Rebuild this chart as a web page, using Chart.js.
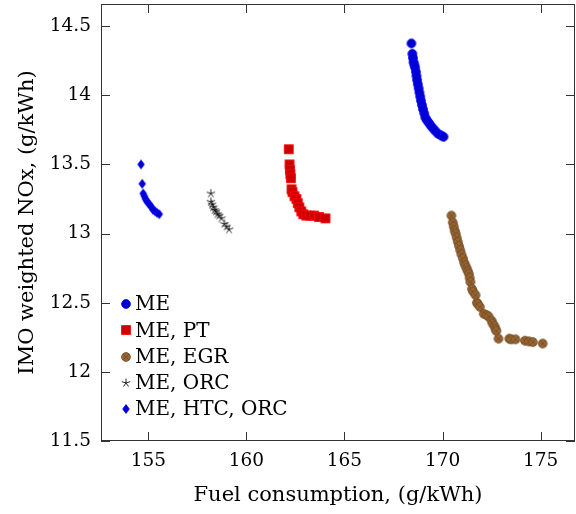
<!DOCTYPE html>
<html><head><meta charset="utf-8">
<script src="https://cdn.jsdelivr.net/npm/chart.js@4/dist/chart.umd.min.js"></script>
<style>html,body{margin:0;padding:0;background:#fff}#wrap{width:576px;height:514px;position:relative}</style>
</head><body><div id="wrap"><canvas id="c" width="576" height="514"></canvas></div>
<script>
// ---- data ----
const seriesLabels = ['ME', 'ME, PT', 'ME, EGR', 'ME, ORC', 'ME, HTC, ORC'];
const meX = [168.41,168.46,168.49,168.52,168.56,168.60,168.64,168.67,168.70,168.74,168.78,168.82,168.86,168.90,168.95,169.00,169.06,169.12,169.20,169.30,169.40,169.52,169.64,169.78,169.92,170.05];
const meY = [14.375,14.30,14.27,14.24,14.22,14.20,14.17,14.14,14.11,14.08,14.05,14.02,13.99,13.96,13.93,13.90,13.87,13.84,13.82,13.80,13.78,13.76,13.74,13.72,13.71,13.70];
const ptX = [162.16,162.20,162.22,162.24,162.27,162.30,162.35,162.45,162.55,162.62,162.70,162.80,162.90,163.05,163.25,163.45,163.70,164.03];
const ptY = [13.61,13.50,13.46,13.43,13.40,13.32,13.30,13.27,13.25,13.22,13.19,13.16,13.14,13.13,13.13,13.13,13.12,13.11];
const egrX = [170.45,170.52,170.57,170.62,170.67,170.72,170.78,170.84,170.90,170.96,171.04,171.10,171.16,171.22,171.28,171.34,171.38,171.42,171.50,171.56,171.68,171.75,171.80,171.90,172.10,172.25,172.35,172.50,172.55,172.65,172.70,172.74,172.85,173.40,173.50,173.72,174.20,174.40,174.60,175.10];
const egrY = [13.13,13.08,13.05,13.02,13.00,12.97,12.94,12.91,12.88,12.85,12.82,12.79,12.77,12.75,12.73,12.71,12.68,12.65,12.60,12.58,12.555,12.50,12.49,12.47,12.42,12.41,12.40,12.37,12.35,12.33,12.31,12.295,12.24,12.24,12.235,12.235,12.225,12.22,12.215,12.205];
const orcX = [158.19,158.19,158.25,158.31,158.38,158.45,158.53,158.62,158.73,158.88,158.99,159.12];
const orcY = [13.29,13.23,13.21,13.19,13.17,13.16,13.14,13.13,13.11,13.07,13.05,13.03];
const htcX = [154.63,154.69,154.74,154.80,154.86,154.92,155.00,155.09,155.17,155.25,155.35,155.45,155.56];
const htcY = [13.50,13.36,13.29,13.27,13.25,13.235,13.22,13.205,13.19,13.17,13.16,13.15,13.14];
const xTicks = [155, 160, 165, 170, 175];
const xTickLabels = ['155', '160', '165', '170', '175'];
const yTicks = [11.5, 12, 12.5, 13, 13.5, 14, 14.5];
const yTickLabels = ['11.5', '12', '12.5', '13', '13.5', '14', '14.5'];
const xTitle = 'Fuel consumption, (g/kWh)';
const yTitle = 'IMO weighted NOx, (g/kWh)';

// ---- marks ----
const R = 4.4, LW = 0.85;
function mk(draw) {
  const c = document.createElement('canvas'); c.width = 16; c.height = 16;
  const g = c.getContext('2d'); g.translate(8, 8); g.lineWidth = LW; draw(g); return c;
}
const markCircle = mk(g => { g.beginPath(); g.arc(0,0,R,0,Math.PI*2); g.fillStyle='#0000cc'; g.fill(); g.strokeStyle='#0000ff'; g.stroke(); });
const markSquare = mk(g => { g.fillStyle='#cc0000'; g.fillRect(-R,-R,2*R,2*R); g.strokeStyle='#ff0000'; g.strokeRect(-R,-R,2*R,2*R); });
const markOtimes = mk(g => { g.beginPath(); g.arc(0,0,R,0,Math.PI*2); g.fillStyle='rgb(153,102,51)'; g.fill(); g.strokeStyle='rgb(115,77,38)'; g.stroke();
  const d = R*0.707; g.beginPath(); g.moveTo(-d,-d); g.lineTo(d,d); g.moveTo(-d,d); g.lineTo(d,-d); g.stroke(); });
const markStar = mk(g => { g.strokeStyle='#000'; g.beginPath(); for (let i=0;i<5;i++){ const a=-Math.PI/2+i*2*Math.PI/5; g.moveTo(0,0); g.lineTo(R*Math.cos(a),R*Math.sin(a)); } g.stroke(); });
const markDiamond = mk(g => { g.beginPath(); g.moveTo(0,-R); g.lineTo(R*0.75,0); g.lineTo(0,R); g.lineTo(-R*0.75,0); g.closePath(); g.fillStyle='#0000cc'; g.fill(); g.strokeStyle='#0000ff'; g.stroke(); });
const marks = [markCircle, markSquare, markOtimes, markStar, markDiamond];

const pts = (xs, ys) => xs.map((x, i) => ({x, y: ys[i]}));
const seriesData = [pts(meX, meY), pts(ptX, ptY), pts(egrX, egrY), pts(orcX, orcY), pts(htcX, htcY)];

const FONT = '"DejaVu Serif", "Liberation Serif", serif';
const FS = 20, FT = 18.5, FTITLE = 21;

const framePlugin = {
  id: 'frame',
  afterDatasetsDraw(chart) {
    const {ctx, chartArea: a, scales} = chart;
    ctx.save();
    ctx.strokeStyle = '#333'; ctx.lineWidth = 1;
    ctx.strokeRect(Math.round(a.left)+0.5, Math.round(a.top)+0.5, Math.round(a.right-a.left)-1, Math.round(a.bottom-a.top)-1);
    const TL = 9;
    ctx.beginPath();
    xTicks.forEach(v => { const x = Math.round(scales.x.getPixelForValue(v))+0.5;
      ctx.moveTo(x, a.bottom); ctx.lineTo(x, a.bottom-TL); ctx.moveTo(x, a.top); ctx.lineTo(x, a.top+TL); });
    yTicks.forEach(v => { const y = Math.round(scales.y.getPixelForValue(v))+0.5;
      ctx.moveTo(a.left, y); ctx.lineTo(a.left+TL, y); ctx.moveTo(a.right, y); ctx.lineTo(a.right-TL, y); });
    ctx.stroke();
    // legend
    ctx.font = FS + 'px ' + FONT; ctx.fillStyle = '#000'; ctx.textBaseline = 'middle'; ctx.textAlign = 'left';
    chart.data.datasets.forEach((ds, i) => {
      const y = 304 + i*26.3;
      ctx.drawImage(marks[i], 126-8, Math.round(y)-8);
      ctx.fillText(ds.label, 135, y+1);
    });
    ctx.restore();
  }
};

new Chart(document.getElementById('c'), {
  type: 'scatter',
  data: { datasets: seriesLabels.map((l, i) => ({
    label: l, data: seriesData[i], pointStyle: marks[i], pointRadius: 5, pointHoverRadius: 5, showLine: false
  })) },
  options: {
    responsive: false, animation: false,
    layout: { autoPadding: false, padding: { left: 0, right: 1, top: 4, bottom: 0 } },
    plugins: { legend: { display: false }, tooltip: { enabled: false } },
    scales: {
      x: { type: 'linear', min: 152.59, max: 176.75,
        grid: { display: false, drawTicks: false }, border: { display: false },
        afterBuildTicks: s => { s.ticks = xTicks.map(v => ({value: v})); },
        afterFit: s => { s.height = 73; s.paddingLeft = 0; s.paddingRight = 0; },
        ticks: { color: '#000', font: { family: FONT, size: FT }, padding: 9, maxRotation: 0,
          callback: v => xTickLabels[xTicks.indexOf(v)] },
        title: { display: true, text: xTitle, color: '#000', font: { family: FONT, size: FTITLE }, padding: 6 } },
      y: { type: 'linear', min: 11.5, max: 14.66,
        grid: { display: false, drawTicks: false }, border: { display: false },
        afterBuildTicks: s => { s.ticks = yTicks.map(v => ({value: v})); },
        afterFit: s => { s.width = 101; s.paddingTop = 0; s.paddingBottom = 0; },
        ticks: { color: '#000', font: { family: FONT, size: FT }, padding: 10,
          callback: v => yTickLabels[yTicks.indexOf(v)] },
        title: { display: true, text: yTitle, color: '#000', font: { family: FONT, size: FTITLE }, padding: 15 } }
    }
  },
  plugins: [framePlugin]
});
</script></body></html>
